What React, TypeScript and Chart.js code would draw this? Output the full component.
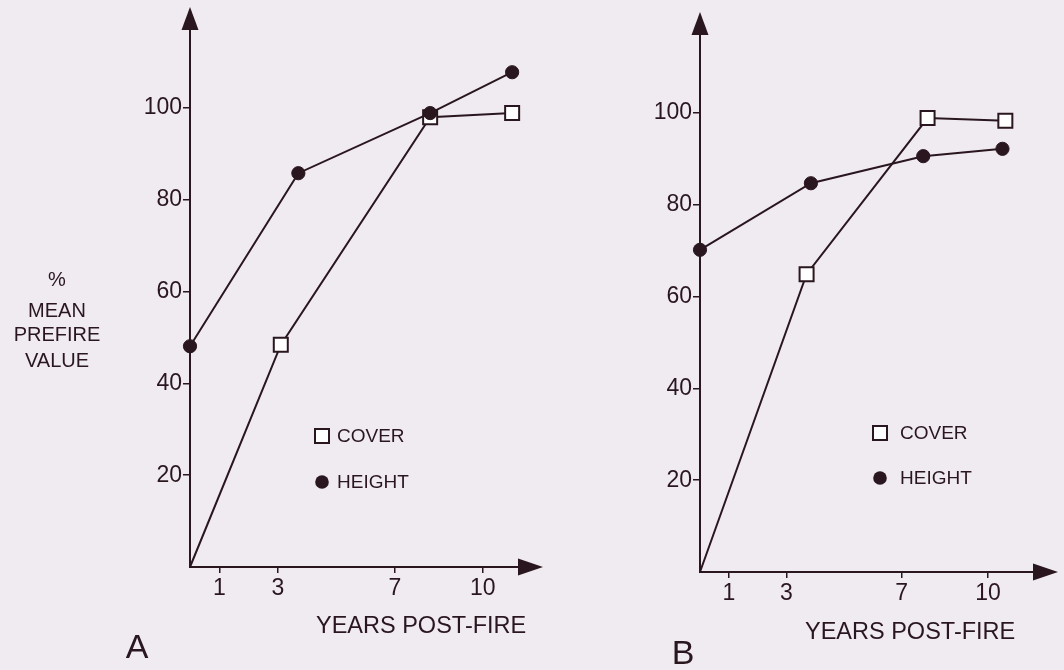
import React, { useEffect, useRef } from "react";
import { Chart, registerables } from "chart.js";

Chart.register(...registerables);

// ---- data ----
const xTickYears = [1, 3, 7, 10];
const yTickValues = [20, 40, 60, 80, 100];

const coverYearsA = [0, 3.1, 8.2, 11.0];
const coverValuesA = [0, 48.4, 98.0, 98.9];
const heightYearsA = [0, 3.7, 8.2, 11.0];
const heightValuesA = [48.1, 85.8, 98.9, 107.8];

const coverYearsB = [0, 3.7, 7.9, 10.6];
const coverValuesB = [0, 64.9, 98.9, 98.3];
const heightYearsB = [0, 3.85, 7.75, 10.5];
const heightValuesB = [70.2, 84.7, 90.6, 92.2];

const seriesNames = ["COVER", "HEIGHT"];
const xAxisTitle = "YEARS POST-FIRE";
const yAxisTitleLines = ["%", "MEAN", "PREFIRE", "VALUE"];
const panelLabels = ["A", "B"];

// ---- styles ----
const INK = "#2a161e";
const BG = "#efebf1";
const FONT = '"Liberation Sans", Arial, Helvetica, sans-serif';

type PanelLayout = {
  width: number;
  padding: { left: number; right: number; top: number; bottom: number };
  xMax: number;
  legend: { markerX: number; textX: number; coverY: number; heightY: number };
  xTitle: { x: number; y: number };
  panelLabel: { x: number; y: number; text: string };
  yTitle?: { x: number; ys: number[] };
};

function toPoints(xs: number[], ys: number[]) {
  return xs.map((x, i) => ({ x, y: ys[i] }));
}

function makeConfig(
  coverXs: number[],
  coverYs: number[],
  heightXs: number[],
  heightYs: number[],
  L: PanelLayout
): any {
  const decor = {
    id: "decor",
    afterDraw(chart: any) {
      const { ctx, chartArea } = chart;
      ctx.save();
      ctx.fillStyle = INK;
      // y arrow
      ctx.beginPath();
      ctx.moveTo(chartArea.left - 8.5, chartArea.top);
      ctx.lineTo(chartArea.left + 8.5, chartArea.top);
      ctx.lineTo(chartArea.left, chartArea.top - 23);
      ctx.closePath();
      ctx.fill();
      // x arrow
      ctx.beginPath();
      ctx.moveTo(chartArea.right, chartArea.bottom - 8.5);
      ctx.lineTo(chartArea.right, chartArea.bottom + 8.5);
      ctx.lineTo(chartArea.right + 25, chartArea.bottom);
      ctx.closePath();
      ctx.fill();

      // legend
      const lg = L.legend;
      ctx.lineWidth = 2;
      ctx.strokeStyle = INK;
      ctx.fillStyle = "#ffffff";
      ctx.fillRect(lg.markerX - 7, lg.coverY - 7, 14, 14);
      ctx.strokeRect(lg.markerX - 7, lg.coverY - 7, 14, 14);
      ctx.fillStyle = INK;
      ctx.beginPath();
      ctx.arc(lg.markerX, lg.heightY, 6.8, 0, Math.PI * 2);
      ctx.fill();
      ctx.font = `19px ${FONT}`;
      ctx.textAlign = "left";
      ctx.textBaseline = "middle";
      ctx.fillText(seriesNames[0], lg.textX, lg.coverY + 1);
      ctx.fillText(seriesNames[1], lg.textX, lg.heightY + 1);

      // x title
      ctx.font = `23.5px ${FONT}`;
      ctx.fillText(xAxisTitle, L.xTitle.x, L.xTitle.y);

      // panel label
      ctx.font = `34px ${FONT}`;
      ctx.textAlign = "center";
      ctx.fillText(L.panelLabel.text, L.panelLabel.x, L.panelLabel.y);

      // y title
      if (L.yTitle) {
        ctx.font = `20px ${FONT}`;
        ctx.textAlign = "center";
        yAxisTitleLines.forEach((t, i) => {
          ctx.fillText(t, L.yTitle!.x, L.yTitle!.ys[i]);
        });
      }
      ctx.restore();
    },
  };

  // no marker is drawn where a line starts from the origin
  const squareRadius = (c: any) => (c.raw && c.raw.y === 0 ? 0 : 9.9);

  return {
    type: "line",
    data: {
      datasets: [
        {
          label: seriesNames[0],
          data: toPoints(coverXs, coverYs),
          borderColor: INK,
          borderWidth: 2,
          tension: 0,
          pointStyle: "rect",
          pointRadius: squareRadius,
          pointBackgroundColor: "#ffffff",
          pointBorderColor: INK,
          pointBorderWidth: 2,
          clip: false,
          order: 1,
        },
        {
          label: seriesNames[1],
          data: toPoints(heightXs, heightYs),
          borderColor: INK,
          borderWidth: 2,
          tension: 0,
          pointStyle: "circle",
          pointRadius: 6.6,
          pointBackgroundColor: INK,
          pointBorderColor: INK,
          pointBorderWidth: 1,
          clip: false,
          order: 0,
        },
      ],
    },
    options: {
      responsive: false,
      animation: false,
      devicePixelRatio: 1,
      layout: { padding: L.padding },
      plugins: { legend: { display: false }, tooltip: { enabled: false } },
      scales: {
        x: {
          type: "linear",
          min: 0,
          max: L.xMax,
          afterBuildTicks: (s: any) => {
            s.ticks = xTickYears.map((v) => ({ value: v }));
          },
          afterFit: (s: any) => {
            s.height = 40;
          },
          border: { display: true, color: INK, width: 2 },
          grid: {
            drawOnChartArea: false,
            drawTicks: true,
            tickLength: 6,
            tickColor: INK,
            lineWidth: 1.5,
          },
          ticks: {
            autoSkip: false,
            maxRotation: 0,
            padding: 2,
            color: INK,
            font: { size: 23, family: FONT },
          },
        },
        y: {
          type: "linear",
          min: 0,
          max: 117,
          afterBuildTicks: (s: any) => {
            s.ticks = yTickValues.map((v) => ({ value: v }));
          },
          afterFit: (s: any) => {
            s.width = 60;
          },
          border: { display: true, color: INK, width: 2 },
          grid: {
            drawOnChartArea: false,
            drawTicks: true,
            tickLength: 7,
            tickColor: INK,
            lineWidth: 1.5,
          },
          ticks: {
            autoSkip: false,
            padding: 1,
            color: INK,
            font: { size: 23, family: FONT },
          },
        },
      },
    },
    plugins: [decor],
  };
}

const layoutA: PanelLayout = {
  width: 560,
  padding: { left: 130, right: 42, top: 30, bottom: 63 },
  xMax: 11.2,
  legend: { markerX: 322, textX: 337, coverY: 436, heightY: 482 },
  xTitle: { x: 316, y: 627 },
  panelLabel: { x: 137, y: 649, text: panelLabels[0] },
  yTitle: { x: 57, ys: [280, 311, 335, 361] },
};

const layoutB: PanelLayout = {
  width: 504,
  padding: { left: 80, right: 31, top: 35, bottom: 58 },
  xMax: 11.56,
  legend: { markerX: 320, textX: 340, coverY: 433, heightY: 478 },
  xTitle: { x: 245, y: 633 },
  panelLabel: { x: 123, y: 655, text: panelLabels[1] },
};

function Panel(props: {
  left: number;
  layout: PanelLayout;
  cx: number[];
  cy: number[];
  hx: number[];
  hy: number[];
}) {
  const ref = useRef<HTMLCanvasElement | null>(null);
  useEffect(() => {
    if (!ref.current) return;
    const chart = new Chart(
      ref.current,
      makeConfig(props.cx, props.cy, props.hx, props.hy, props.layout)
    );
    return () => chart.destroy();
  }, []);
  return (
    <canvas
      ref={ref}
      width={props.layout.width}
      height={670}
      style={{
        position: "absolute",
        left: props.left,
        top: 0,
        width: props.layout.width,
        height: 670,
      }}
    />
  );
}

export default function App() {
  return (
    <div
      style={{
        position: "absolute",
        left: 0,
        top: 0,
        width: 1064,
        height: 670,
        background: BG,
        overflow: "hidden",
      }}
    >
      <Panel
        left={0}
        layout={layoutA}
        cx={coverYearsA}
        cy={coverValuesA}
        hx={heightYearsA}
        hy={heightValuesA}
      />
      <Panel
        left={560}
        layout={layoutB}
        cx={coverYearsB}
        cy={coverValuesB}
        hx={heightYearsB}
        hy={heightValuesB}
      />
    </div>
  );
}
